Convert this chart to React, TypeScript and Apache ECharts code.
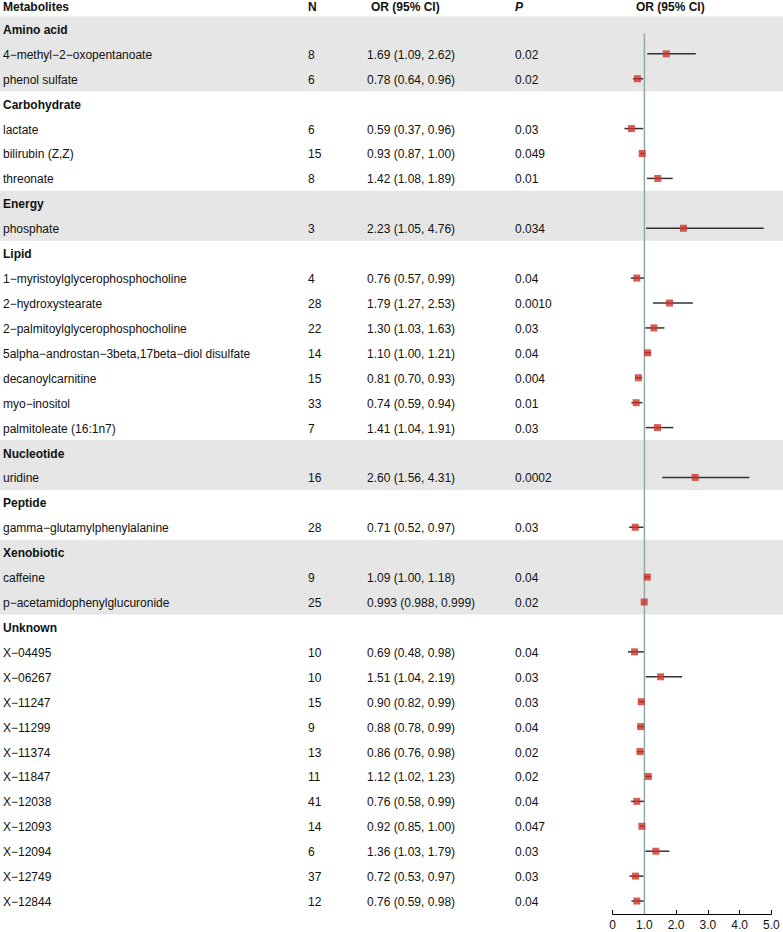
import React, { useEffect, useRef } from "react";
import * as echarts from "echarts";

const headerLabels = ["Metabolites", "N", "OR (95% CI)", "P", "OR (95% CI)"];
const groupNames = ["Amino acid", "Carbohydrate", "Energy", "Lipid", "Nucleotide", "Peptide", "Xenobiotic", "Unknown"];
const metabolites = [
  "4−methyl−2−oxopentanoate", "phenol sulfate",
  "lactate", "bilirubin (Z,Z)", "threonate",
  "phosphate",
  "1−myristoylglycerophosphocholine", "2−hydroxystearate", "2−palmitoylglycerophosphocholine",
  "5alpha−androstan−3beta,17beta−diol disulfate", "decanoylcarnitine", "myo−inositol", "palmitoleate (16:1n7)",
  "uridine",
  "gamma−glutamylphenylalanine",
  "caffeine", "p−acetamidophenylglucuronide",
  "X−04495", "X−06267", "X−11247", "X−11299", "X−11374", "X−11847", "X−12038", "X−12093", "X−12094", "X−12749", "X−12844",
];
const metaboliteGroup = [0, 0, 1, 1, 1, 2, 3, 3, 3, 3, 3, 3, 3, 4, 5, 6, 6, 7, 7, 7, 7, 7, 7, 7, 7, 7, 7, 7];
const nValues = [8, 6, 6, 15, 8, 3, 4, 28, 22, 14, 15, 33, 7, 16, 28, 9, 25, 10, 10, 15, 9, 13, 11, 41, 14, 6, 37, 12];
const orValues = [1.69, 0.78, 0.59, 0.93, 1.42, 2.23, 0.76, 1.79, 1.30, 1.10, 0.81, 0.74, 1.41, 2.60, 0.71, 1.09, 0.993, 0.69, 1.51, 0.90, 0.88, 0.86, 1.12, 0.76, 0.92, 1.36, 0.72, 0.76];
const lowerCI = [1.09, 0.64, 0.37, 0.87, 1.08, 1.05, 0.57, 1.27, 1.03, 1.00, 0.70, 0.59, 1.04, 1.56, 0.52, 1.00, 0.988, 0.48, 1.04, 0.82, 0.78, 0.76, 1.02, 0.58, 0.85, 1.03, 0.53, 0.59];
const upperCI = [2.62, 0.96, 0.96, 1.00, 1.89, 4.76, 0.99, 2.53, 1.63, 1.21, 0.93, 0.94, 1.91, 4.31, 0.97, 1.18, 0.999, 0.98, 2.19, 0.99, 0.99, 0.98, 1.23, 0.99, 1.00, 1.79, 0.97, 0.98];
const orLabels = [
  "1.69 (1.09, 2.62)", "0.78 (0.64, 0.96)",
  "0.59 (0.37, 0.96)", "0.93 (0.87, 1.00)", "1.42 (1.08, 1.89)",
  "2.23 (1.05, 4.76)",
  "0.76 (0.57, 0.99)", "1.79 (1.27, 2.53)", "1.30 (1.03, 1.63)", "1.10 (1.00, 1.21)", "0.81 (0.70, 0.93)", "0.74 (0.59, 0.94)", "1.41 (1.04, 1.91)",
  "2.60 (1.56, 4.31)",
  "0.71 (0.52, 0.97)",
  "1.09 (1.00, 1.18)", "0.993 (0.988, 0.999)",
  "0.69 (0.48, 0.98)", "1.51 (1.04, 2.19)", "0.90 (0.82, 0.99)", "0.88 (0.78, 0.99)", "0.86 (0.76, 0.98)", "1.12 (1.02, 1.23)", "0.76 (0.58, 0.99)", "0.92 (0.85, 1.00)", "1.36 (1.03, 1.79)", "0.72 (0.53, 0.97)", "0.76 (0.59, 0.98)",
];
const pLabels = ["0.02", "0.02", "0.03", "0.049", "0.01", "0.034", "0.04", "0.0010", "0.03", "0.04", "0.004", "0.01", "0.03", "0.0002", "0.03", "0.04", "0.02", "0.04", "0.03", "0.03", "0.04", "0.02", "0.02", "0.04", "0.047", "0.03", "0.03", "0.04"];
const xTicks = [0, 1, 2, 3, 4, 5];

const FONT = "'Liberation Sans', Arial, Helvetica, sans-serif";
const TEXT_COLOR = "#111111";

export default function App() {
  const ref = useRef<HTMLDivElement>(null);
  useEffect(() => {
    document.body.style.margin = "0";
    if (!ref.current) return;
    const chart = echarts.init(ref.current, undefined, { renderer: "svg" });

    const itemRow: number[] = new Array(metabolites.length).fill(0);
    const groupRow: number[] = [];
    const bands: [number, number][] = [];
    let r = 1;
    groupNames.forEach((_, gi) => {
      const start = r;
      groupRow.push(r);
      r++;
      metabolites.forEach((_, i) => {
        if (metaboliteGroup[i] === gi) itemRow[i] = r++;
      });
      if (gi % 2 === 0) bands.push([start - 0.5, r - 0.5]);
    });
    const lastRow = r - 1;

    const colX = { name: 3, n: 308, or: 367, orHead: 371, p: 515, forestHead: 636 };

    type T = { x: number; row: number; text: string; bold?: boolean; italic?: boolean; dy?: number };
    const texts: T[] = [];
    texts.push({ x: colX.name, row: 0, text: headerLabels[0], bold: true, dy: 3 });
    texts.push({ x: colX.n, row: 0, text: headerLabels[1], bold: true, dy: 3 });
    texts.push({ x: colX.orHead, row: 0, text: headerLabels[2], bold: true, dy: 3 });
    texts.push({ x: colX.p, row: 0, text: headerLabels[3], bold: true, italic: true, dy: 3 });
    texts.push({ x: colX.forestHead, row: 0, text: headerLabels[4], bold: true, dy: 3 });
    groupNames.forEach((g, gi) => texts.push({ x: colX.name, row: groupRow[gi], text: g, bold: true }));
    metabolites.forEach((m, i) => {
      texts.push({ x: colX.name, row: itemRow[i], text: m });
      texts.push({ x: colX.n, row: itemRow[i], text: String(nValues[i]) });
      texts.push({ x: colX.or, row: itemRow[i], text: orLabels[i] });
      texts.push({ x: colX.p, row: itemRow[i], text: pLabels[i] });
    });

    const yMin = -0.16;
    const yMax = lastRow + 0.52;

    const option: any = {
      animation: false,
      backgroundColor: "#ffffff",
      grid: [
        { left: 0, right: 0, top: 0, bottom: 18 },
        { left: 612.7, right: 11.7, top: 0, bottom: 18 },
      ],
      xAxis: [
        { gridIndex: 0, type: "value", min: 0, max: 783, show: false },
        {
          gridIndex: 1,
          type: "value",
          min: 0,
          max: 5,
          interval: 1,
          axisLine: { onZero: false, lineStyle: { color: "#000", width: 1 } },
          axisTick: { inside: true, length: 4, lineStyle: { color: "#000", width: 1 } },
          axisLabel: {
            fontSize: 12,
            fontFamily: FONT,
            color: TEXT_COLOR,
            margin: 5,
            formatter: (v: number) => (v === 0 ? "0" : v.toFixed(1)),
            customValues: xTicks,
          },
          splitLine: { show: false },
        },
      ],
      yAxis: [
        { gridIndex: 0, type: "value", min: yMin, max: yMax, inverse: true, show: false },
        { gridIndex: 1, type: "value", min: yMin, max: yMax, inverse: true, show: false },
      ],
      series: [
        {
          type: "custom",
          xAxisIndex: 0,
          yAxisIndex: 0,
          z: 1,
          silent: true,
          data: bands.map((b) => [b[0], b[1]]),
          renderItem: (params: any, api: any) => {
            const p1 = api.coord([0, api.value(0)]);
            const p2 = api.coord([783, api.value(1)]);
            return {
              type: "rect",
              shape: { x: p1[0], y: p1[1], width: p2[0] - p1[0], height: p2[1] - p1[1] },
              style: { fill: "#e6e6e6" },
            };
          },
        },
        {
          type: "custom",
          xAxisIndex: 0,
          yAxisIndex: 0,
          z: 5,
          silent: true,
          data: texts.map((t) => [t.x, t.row]),
          renderItem: (params: any, api: any) => {
            const t = texts[params.dataIndex];
            const p = api.coord([t.x, t.row]);
            return {
              type: "text",
              x: p[0],
              y: p[1] + (t.dy ?? 1),
              style: {
                text: t.text,
                fontSize: 12,
                fontFamily: FONT,
                fontWeight: t.bold ? "bold" : "normal",
                fontStyle: t.italic ? "italic" : "normal",
                fill: TEXT_COLOR,
                align: "left",
                verticalAlign: "middle",
                textAlign: "left",
                textVerticalAlign: "middle",
              },
            };
          },
        },
        {
          type: "line",
          xAxisIndex: 1,
          yAxisIndex: 1,
          z: 3,
          silent: true,
          symbol: "none",
          data: [[1, 1.17], [1, yMax]],
          lineStyle: { color: "#8fa8a8", width: 1.5 },
        },
        {
          type: "custom",
          xAxisIndex: 1,
          yAxisIndex: 1,
          z: 4,
          silent: true,
          data: metabolites.map((_, i) => [lowerCI[i], upperCI[i], itemRow[i]]),
          encode: { x: [0, 1], y: 2 },
          renderItem: (params: any, api: any) => {
            const a = api.coord([api.value(0), api.value(2)]);
            const b = api.coord([api.value(1), api.value(2)]);
            return {
              type: "line",
              shape: { x1: a[0], y1: a[1], x2: b[0], y2: b[1] },
              style: { stroke: "#333333", lineWidth: 1.5 },
            };
          },
        },
        {
          type: "scatter",
          xAxisIndex: 1,
          yAxisIndex: 1,
          z: 6,
          silent: true,
          symbol: "rect",
          symbolSize: 7,
          itemStyle: { color: "#cc3329" },
          data: metabolites.map((_, i) => [orValues[i], itemRow[i]]),
        },
      ],
    };
    chart.setOption(option);
    return () => chart.dispose();
  }, []);
  return <div ref={ref} style={{ width: 783, height: 932 }} />;
}
